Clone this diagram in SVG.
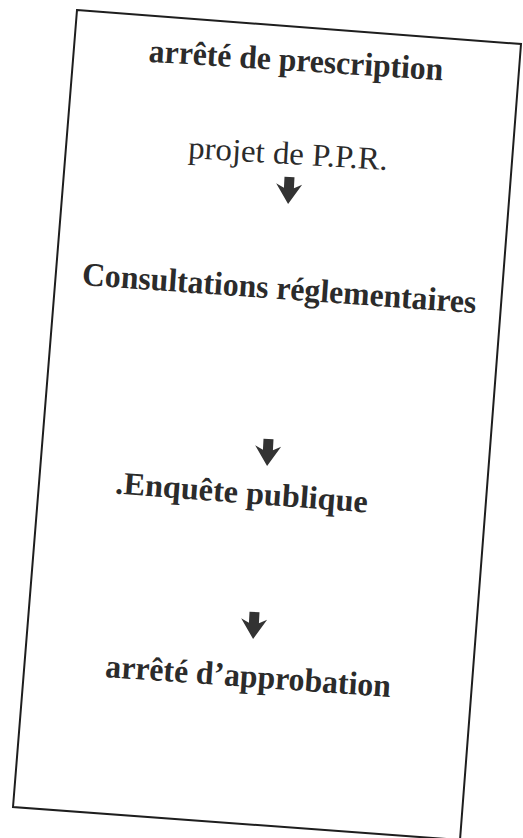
<svg xmlns="http://www.w3.org/2000/svg" xmlns:xlink="http://www.w3.org/1999/xlink" width="523" height="838" viewBox="0 0 523 838">
<style>
.t{font-family:"Liberation Serif","Times New Roman",serif;fill:#2b2b2b;text-anchor:middle}
.b{font-weight:bold}
.frame{fill:none;stroke:#1e1e1e;stroke-width:2}
.arr{fill:#333}
</style>
<defs>
<path id="down" d="M-5,0 L5,0 L5,11 L13,7 L0,27 L-13,7 L-5,11 Z"/>
</defs>
<rect width="523" height="838" fill="#fff"/>
<g id="frame">
<polygon class="frame" points="77,10 521,44 460,840 13,807"/>
</g>
<g id="n1">
<text class="t b" x="295.5" y="71" font-size="33" textLength="295" lengthAdjust="spacingAndGlyphs" transform="rotate(3.6 295.5 71)" fill="#3a3a3a">arrêté de prescription</text>
</g>
<g id="n2">
<text class="t" x="287.5" y="164" font-size="32" textLength="200" lengthAdjust="spacingAndGlyphs" transform="rotate(3.4 287.5 164)">projet de P.P.R.</text>
</g>
<g id="n3">
<text class="t b" x="278.5" y="299" font-size="33" textLength="395" lengthAdjust="spacingAndGlyphs" transform="rotate(4.1 278.5 299)">Consultations réglementaires</text>
</g>
<g id="n4">
<text class="t b" x="241" y="503" font-size="32" textLength="253" lengthAdjust="spacingAndGlyphs" transform="rotate(4.3 241 503)">.Enquête publique</text>
</g>
<g id="n5">
<text class="t b" x="247.5" y="687" font-size="33" textLength="286" lengthAdjust="spacingAndGlyphs" transform="rotate(4 247.5 687)">arrêté d’approbation</text>
</g>
<g id="connectors">
<use xlink:href="#down" class="arr" transform="translate(289.5 177) rotate(3)"/>
<use xlink:href="#down" class="arr" transform="translate(268.5 439) rotate(3)"/>
<use xlink:href="#down" class="arr" transform="translate(254.5 612) rotate(3)"/>
</g>
</svg>
